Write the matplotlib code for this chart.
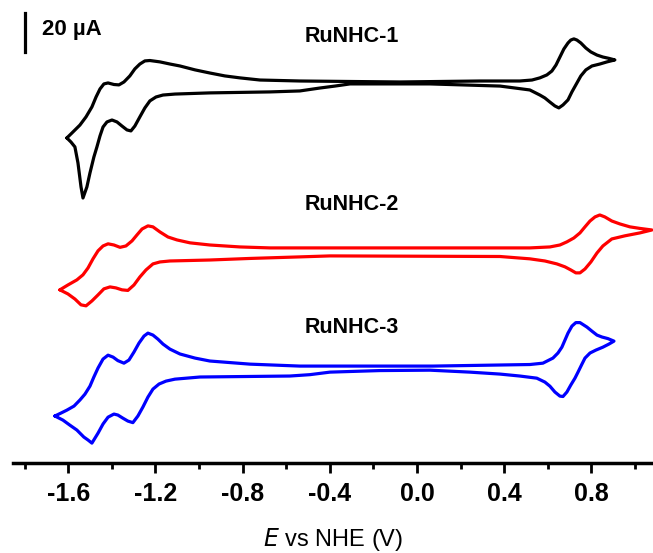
import numpy as np
import matplotlib
matplotlib.use("Agg")
import matplotlib.pyplot as plt

plt.rcParams["font.family"] = ["Liberation Sans", "DejaVu Sans"]

# cyclic voltammograms: E (V vs NHE), I (uA, relative to upper baseline)
# RuNHC-1
E_1 = [-1.606, -1.583, -1.546, -1.518, -1.491, -1.472, -1.454, -1.436, -1.417, -1.390,
       -1.367, -1.344, -1.317, -1.294, -1.271, -1.248, -1.225, -1.179, -1.133, -1.087,
       -1.018, -0.950, -0.881, -0.812, -0.720, -0.537, -0.078, 0.289, 0.472, 0.528,
       0.564, 0.596, 0.619, 0.638, 0.656, 0.674, 0.693, 0.706, 0.720, 0.734,
       0.752, 0.775, 0.798, 0.826, 0.853, 0.881, 0.908,
       0.872, 0.839, 0.803, 0.775, 0.752, 0.734, 0.711, 0.693, 0.670, 0.651,
       0.633, 0.610, 0.587, 0.564, 0.518, 0.450, 0.381, 0.060, -0.307, -0.376,
       -0.445, -0.537, -0.674, -0.950, -1.110, -1.165, -1.197, -1.225, -1.248, -1.271,
       -1.294, -1.312, -1.330, -1.353, -1.376, -1.399, -1.422, -1.440, -1.454, -1.468,
       -1.482, -1.500, -1.514, -1.532, -1.541, -1.555, -1.569, -1.587, -1.606]
I_1 = [-28.7, -26.2, -22.1, -17.9, -12.8, -7.7, -3.6, -1.0, -0.5, -1.3,
       -1.5, 0.0, 3.1, 6.7, 9.2, 10.8, 11.0, 10.3, 9.2, 8.2,
       6.2, 4.6, 3.1, 2.1, 1.0, 0.5, 0.0, 0.5, 0.5, 1.0,
       2.1, 3.6, 5.6, 8.7, 12.8, 16.9, 20.0, 21.5, 22.1, 21.5,
       20.0, 17.4, 15.4, 13.8, 12.8, 12.1, 11.3,
       10.3, 9.2, 8.2, 6.2, 3.1, -0.5, -5.1, -9.2, -11.8, -13.3,
       -12.3, -10.3, -8.2, -6.7, -4.1, -3.1, -2.1, -1.0, -1.0, -2.1,
       -3.1, -4.6, -5.1, -5.6, -6.2, -6.7, -7.7, -9.7, -13.3, -17.9,
       -22.6, -25.1, -24.6, -22.6, -20.5, -19.5, -20.5, -23.1, -27.7, -33.3,
       -38.5, -46.7, -53.8, -59.5, -53.8, -41.5, -33.3, -30.8, -28.7]

# RuNHC-2
E_2 = [-1.638, -1.601, -1.560, -1.532, -1.509, -1.486, -1.463, -1.440, -1.417, -1.390,
       -1.362, -1.335, -1.307, -1.284, -1.261, -1.234, -1.211, -1.179, -1.142, -1.101,
       -1.041, -0.950, -0.812, -0.674, 0.060, 0.518, 0.610, 0.656, 0.688, 0.720,
       0.748, 0.771, 0.794, 0.817, 0.839, 0.862, 0.894, 0.931, 0.977, 1.023, 1.078,
       1.023, 0.954, 0.894, 0.853, 0.826, 0.798, 0.771, 0.748, 0.729, 0.706,
       0.679, 0.642, 0.587, 0.518, 0.381, -0.399, -0.537, -0.766, -0.950, -1.133,
       -1.179, -1.211, -1.243, -1.271, -1.298, -1.326, -1.353, -1.381, -1.408, -1.436,
       -1.463, -1.491, -1.518, -1.541, -1.569, -1.601, -1.638]
I_2 = [-21.5, -19.0, -16.4, -13.8, -10.3, -5.6, -1.5, 1.0, 2.1, 1.5,
       0.3, 1.0, 3.6, 6.7, 9.7, 11.3, 10.8, 8.2, 5.6, 4.1,
       2.6, 1.5, 0.5, 0.0, 0.0, 0.0, 0.5, 1.5, 3.1, 5.1,
       7.7, 10.8, 13.8, 15.9, 16.9, 15.9, 13.8, 12.3, 10.8, 10.0, 9.2,
       7.7, 6.2, 4.6, 1.0, -2.6, -7.2, -10.8, -12.8, -12.8, -11.3,
       -9.7, -8.2, -6.7, -5.6, -4.4, -4.1, -4.6, -5.4, -6.2, -6.7,
       -7.2, -8.2, -11.3, -14.9, -19.0, -21.8, -21.5, -20.5, -20.0, -21.0,
       -24.1, -27.2, -29.7, -29.2, -26.2, -23.6, -21.5]

# RuNHC-3
E_3 = [-1.661, -1.633, -1.606, -1.573, -1.546, -1.523, -1.500, -1.482, -1.463, -1.440,
       -1.417, -1.394, -1.372, -1.344, -1.321, -1.298, -1.275, -1.252, -1.234, -1.211,
       -1.188, -1.165, -1.133, -1.087, -1.018, -0.950, -0.766, -0.537, 0.073, 0.518,
       0.578, 0.624, 0.647, 0.665, 0.679, 0.693, 0.711, 0.729, 0.748, 0.780,
       0.803, 0.826, 0.849, 0.876, 0.904,
       0.881, 0.853, 0.821, 0.794, 0.771, 0.757, 0.739, 0.725, 0.706, 0.688,
       0.670, 0.656, 0.633, 0.610, 0.587, 0.550, 0.472, 0.381, 0.243, 0.060,
       -0.170, -0.399, -0.491, -0.583, -0.995, -1.110, -1.151, -1.183, -1.211, -1.234,
       -1.257, -1.280, -1.303, -1.326, -1.349, -1.372, -1.390, -1.417, -1.440, -1.463,
       -1.491, -1.509, -1.528, -1.560, -1.592, -1.624, -1.661]
I_3 = [-25.6, -24.1, -22.6, -20.5, -17.4, -14.4, -10.3, -5.6, -1.0, 3.6,
       5.6, 4.6, 2.8, 1.5, 3.1, 7.2, 11.8, 15.4, 16.9, 15.9,
       13.8, 11.3, 8.7, 6.2, 4.1, 2.6, 1.0, 0.0, 0.0, 0.8,
       1.5, 4.1, 6.7, 9.7, 13.3, 16.9, 20.5, 22.3, 22.3, 20.0,
       17.9, 15.9, 14.9, 14.1, 12.8,
       11.3, 9.7, 8.2, 6.7, 4.1, 1.0, -3.1, -6.2, -9.7, -13.3,
       -15.6, -15.4, -13.3, -10.3, -8.2, -6.2, -5.1, -4.1, -3.1, -2.1,
       -2.3, -3.1, -4.4, -5.1, -5.6, -6.7, -7.7, -9.2, -11.8, -15.9,
       -21.0, -25.6, -29.0, -28.2, -26.7, -25.1, -24.6, -26.2, -29.7, -34.4,
       -39.5, -37.9, -36.4, -32.8, -30.3, -27.7, -25.6]

names = ["RuNHC-1", "RuNHC-2", "RuNHC-3"]
colors = ["black", "red", "blue"]
offsets = [195.4, 110.3, 49.7]
label_y = [218.5, 132.8, 69.7]
ticks = [-1.6, -1.2, -0.8, -0.4, 0.0, 0.4, 0.8]

fig = plt.figure(figsize=(6.53, 5.53), dpi=100)
ax = fig.add_axes([13 / 653, 90 / 553, 640 / 653, 463 / 553])

for E, I, off, c in zip([E_1, E_2, E_3], [I_1, I_2, I_3], offsets, colors):
    ax.plot(E, np.array(I) + off, color=c, lw=2.3,
            solid_joinstyle="round", solid_capstyle="round")

for name, y in zip(names, label_y):
    ax.text(-0.298, y, name, ha="center", va="center", fontsize=15.5, fontweight="bold")

# 20 uA scale bar
ax.plot([-1.798, -1.798], [210.8, 230.8], color="black", lw=2.3)
ax.text(-1.72, 222.5, "20 \u00b5A", ha="left", va="center", fontsize=16, fontweight="bold")

ax.set_xlim(-1.853, 1.083)
ax.set_ylim(0, 463 / 1.95)
for s in ["left", "right", "top"]:
    ax.spines[s].set_visible(False)
ax.spines["bottom"].set_linewidth(2.5)
ax.set_yticks([])
ax.set_xticks(ticks)
ax.set_xticklabels([f"{t:.1f}" for t in ticks], fontweight="bold", fontsize=18)
ax.set_xticks(np.arange(-1.8, 1.1, 0.4), minor=True)
ax.tick_params(axis="x", which="major", direction="out", length=7, width=2, pad=7)
ax.tick_params(axis="x", which="minor", direction="out", length=4, width=2)
ax.set_xlabel("$\\mathit{E}$ vs NHE (V)", fontsize=17, labelpad=14)

fig.savefig("out.png", dpi=100)
